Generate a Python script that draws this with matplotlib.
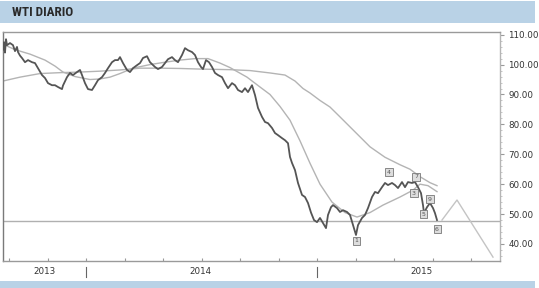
import matplotlib
matplotlib.use("Agg")
import matplotlib.pyplot as plt
from matplotlib.patches import Rectangle
from matplotlib.lines import Line2D

# ---- data (x = trading-session index from start of window) ----
price_x = [0, 1, 2, 3, 4, 7, 10, 12, 14, 15, 17, 19, 22, 25, 29, 32, 35, 39, 42, 45, 49, 52, 55, 59, 60,
           64, 67, 70, 74, 77, 79, 82, 85, 89, 92, 95, 99, 102, 105, 109, 112, 115, 117, 120, 124, 127, 130,
           134, 137, 140, 144, 147, 152, 155, 159, 162, 165, 169, 172, 175, 179, 182, 185, 189, 192, 195, 198,
           200, 203, 206, 209, 212, 215, 219, 222, 225, 229, 232, 235, 239, 242, 245, 249, 252, 255, 259, 262,
           265, 269, 272, 275, 279, 282, 285, 287, 289, 292, 295, 299, 302, 305, 308, 311, 314, 317, 320, 323,
           325, 328, 330, 334, 337, 340, 344, 347, 350, 352, 353, 355, 359, 362, 365, 369, 372, 375, 379, 382,
           385, 389, 392, 395, 399, 402, 405, 409, 412, 415, 418, 420, 421, 424, 427, 430, 432, 434]
price = [105, 107.5, 104, 108.5, 106.5, 107.2, 106.5, 104.5, 105.9, 104.2, 103, 102.2, 100.8, 101.5, 100.8,
         100.5, 98.8, 96.5, 95.5, 93.8, 93.1, 93.1, 92.5, 91.8, 93, 95.8, 97.2, 96.5, 97.5, 98.2, 96.5, 93.8,
         91.8, 91.5, 93.1, 94.8, 95.8, 97.2, 98.8, 100.8, 101.5, 101.5, 102.5, 100.5, 98.2, 97.5, 98.8, 99.8,
         100.5, 102.2, 102.8, 100.8, 99.2, 98.5, 99.2, 100.5, 101.8, 102.5, 101.5, 100.8, 103.2, 105.5, 104.8,
         104.2, 103.2, 100.8, 99.2, 98.5, 101.5, 100.8, 99.2, 97.2, 96.5, 95.8, 93.8, 92.1, 93.8, 93.1, 91.5,
         90.8, 92.1, 90.8, 93.1, 89.8, 85.5, 82.5, 80.8, 80.4, 78.8, 77.1, 76.4, 75.4, 74.7, 73.7, 69.1, 67.1,
         64.7, 60.4, 56.4, 55.7, 53.7, 50.5, 48, 47.3, 48.7, 47, 45.3, 49.7, 52.3, 53, 52, 50.7, 51.3, 50.7,
         49.7, 46.3, 44, 43, 46.3, 48.7, 49.7, 52, 55.7, 57.4, 57, 59, 60.4, 59.7, 60.4, 59.7, 58.7, 60.7, 59,
         60.7, 60.4, 60.7, 59, 57, 53, 50.3, 52.3, 53.7, 52, 50.3, 48]

ma_short_x = [2, 12, 27, 42, 52, 60, 72, 87, 97, 107, 117, 130, 147, 162, 177, 192, 205, 217, 227, 244,
              257, 267, 277, 287, 297, 307, 317, 329, 342, 354, 367, 380, 397, 410, 417, 425, 434]
ma_short = [106.5, 105, 103.5, 101.5, 99.5, 97.5, 96, 95, 95.2, 95.8, 97, 98.8, 100, 100.8, 101.5, 102, 102,
            100.5, 99, 95.8, 92.5, 90, 86, 81.4, 74.5, 67, 60, 54, 50.5, 49, 50.5, 53, 55.7, 58, 60, 59.5, 57.5]

ma_long_x = [0, 17, 37, 57, 77, 97, 117, 137, 157, 177, 197, 227, 247, 267, 282, 292, 300, 307, 317, 327,
             337, 352, 367, 382, 397, 407, 417, 427, 434]
ma_long = [94.5, 95.8, 97, 97.3, 97.5, 97.8, 98.2, 98.8, 98.8, 98.7, 98.5, 98.3, 98, 97.2, 96.5, 94.5, 92,
           90.5, 88, 85.8, 82.5, 77.5, 72.5, 69, 66.5, 65, 62.5, 60.5, 59.5]

support_level = 47.7
projection_x = [439, 454, 490]
projection = [48.0, 54.7, 35.6]

wave_x = [353, 386, 413, 411, 420, 427, 434]
wave_y = [41.0, 64.0, 62.4, 57.0, 50.0, 55.0, 45.0]
wave_labels = ["1", "4", "7", "3", "5", "9", "6"]

y_ticks = [40, 50, 60, 70, 80, 90, 100, 110]
year_labels = ["2013", "2014", "2015"]
year_label_x = [42, 197, 419]
year_breaks = [83, 314]
month_ticks = [6, 44.5, 83, 121.5, 160, 198.5, 237, 275.5, 314, 352.5, 391, 429.5, 468]

# ---- figure ----
W, H = 539, 288
fig = plt.figure(figsize=(W / 100, H / 100), dpi=100)
fig.patch.set_facecolor("white")

band_col = "#b9d2e6"
fig.add_artist(Rectangle((0, 1 - 23 / H), 535 / W, 22 / H, transform=fig.transFigure,
                         facecolor=band_col, edgecolor="none", zorder=0))
fig.add_artist(Rectangle((0, 0), 535 / W, 7 / H, transform=fig.transFigure,
                         facecolor=band_col, edgecolor="none", zorder=0))
fig.text(12 / W, 1 - 13 / H, "WTI DIARIO", fontsize=9.5, fontweight="bold", color="#2a2a2a",
         family=["Roboto Condensed", "DejaVu Sans Condensed", "Liberation Sans Narrow", "DejaVu Sans"],
         fontstretch="condensed", va="center", ha="left")

ax = fig.add_axes([3 / W, 27 / H, 497 / W, 229 / H])
ax.set_xlim(0, 497)
ax.set_ylim(34.3, 110.9)

ax.plot(ma_long_x, ma_long, color="#b4b4b4", lw=1.0, zorder=2)
ax.plot(ma_short_x, ma_short, color="#b4b4b4", lw=1.0, zorder=2)
ax.axhline(support_level, color="#b0b0b0", lw=1.0, zorder=1)
ax.plot(projection_x, projection, color="#c4c4c4", lw=1.0, zorder=2)
ax.plot(price_x, price, color="#555555", lw=1.3, zorder=3)

for xv, yv, lab in zip(wave_x, wave_y, wave_labels):
    ax.text(xv, yv, lab, fontsize=4.5, color="#555555", ha="center", va="center", zorder=4,
            bbox=dict(boxstyle="square,pad=0.25", facecolor="#dddddd", edgecolor="#777777", lw=0.6))

# spines
for s in ["left", "top", "bottom", "right"]:
    ax.spines[s].set_linewidth(1.0)
ax.spines["left"].set_color("#7a7a7a")
ax.spines["top"].set_color("#9a9a9a")
ax.spines["bottom"].set_color("#9a9a9a")
ax.spines["right"].set_color("#b5b5b5")
ax.spines["right"].set_linestyle((0, (1, 1)))

ax.yaxis.tick_right()
ax.set_yticks(y_ticks)
ax.set_yticklabels([f"{v:.2f}" for v in y_ticks])
ax.tick_params(axis="y", labelsize=6.3, labelcolor="#333333", length=3, color="#999999", pad=3)
ax.set_yticks([v for v in range(36, 111, 2) if v not in y_ticks], minor=True)
ax.tick_params(axis="y", which="minor", length=1.5, color="#bbbbbb")

ax.set_xticks(month_ticks)
ax.set_xticklabels([])
ax.tick_params(axis="x", direction="in", length=2, color="#999999")

for lab, xv in zip(year_labels, year_label_x):
    ax.text(xv, -0.048, lab, transform=ax.get_xaxis_transform(), fontsize=6.3, color="#333333",
            ha="center", va="center")
for xv in year_breaks:
    ax.add_line(Line2D([xv, xv], [-0.026, -0.070], transform=ax.get_xaxis_transform(),
                       color="#666666", lw=0.8, clip_on=False))

fig.savefig("out.png", dpi=100)
